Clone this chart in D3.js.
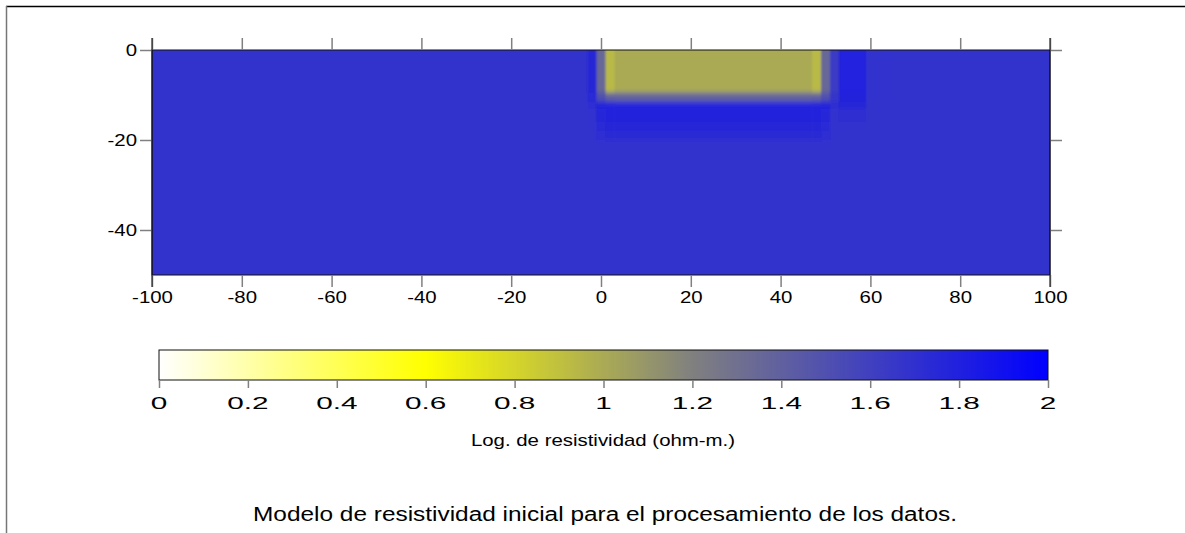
<!DOCTYPE html>
<html>
<head>
<meta charset="utf-8">
<script src="https://cdn.jsdelivr.net/npm/d3@7"></script>
<style>
  html, body { margin: 0; padding: 0; background: #fff; }
  svg { display: block; }
  text { font-family: "Liberation Sans", Arial, sans-serif; fill: #000; }
</style>
</head>
<body>
<svg id="chart" width="1185" height="533"></svg>
<script>
// Resistivity model: cell boundaries in distance (m) and depth (m)
const xEdges = [-100, -3, -1, 1, 3, 47, 49, 51, 53, 59, 65, 100];
const zEdges = [0, 9.5, 11.5, 13, 16, 18, 20, 22, 50];
// log10 resistivity per cell, one row per depth interval
const logRho = [
  [1.68, 1.75, 1.35, 0.93, 1.00, 0.93, 1.35, 1.64, 1.80, 1.70, 1.68],
  [1.68, 1.74, 1.50, 1.40, 1.38, 1.40, 1.50, 1.66, 1.78, 1.69, 1.68],
  [1.68, 1.72, 1.78, 1.80, 1.80, 1.80, 1.78, 1.72, 1.75, 1.68, 1.68],
  [1.68, 1.70, 1.76, 1.78, 1.78, 1.78, 1.76, 1.70, 1.71, 1.68, 1.68],
  [1.68, 1.69, 1.74, 1.75, 1.75, 1.75, 1.74, 1.69, 1.69, 1.68, 1.68],
  [1.68, 1.69, 1.72, 1.73, 1.73, 1.73, 1.72, 1.69, 1.68, 1.68, 1.68],
  [1.68, 1.68, 1.70, 1.70, 1.70, 1.70, 1.70, 1.68, 1.68, 1.68, 1.68],
  [1.68, 1.68, 1.68, 1.68, 1.68, 1.68, 1.68, 1.68, 1.68, 1.68, 1.68]
];
const xTicks = [-100, -80, -60, -40, -20, 0, 20, 40, 60, 80, 100];
const yTicks = [0, -20, -40];
const cbTicks = [0, 0.2, 0.4, 0.6, 0.8, 1, 1.2, 1.4, 1.6, 1.8, 2];
const cbStops = [0, 0.6, 1.2, 2];
const cbColors = ["#ffffff", "#ffff00", "#808080", "#0000ff"];
const cbTitle = "Log. de resistividad (ohm-m.)";
const caption = "Modelo de resistividad inicial para el procesamiento de los datos.";

const svg = d3.select("#chart");
const color = d3.scaleLinear().domain(cbStops).range(cbColors).clamp(true);

// widen a text element horizontally around its anchor
function widen(sel, k) {
  sel.each(function () {
    const w = this.getComputedTextLength();
    d3.select(this).attr("textLength", w * k).attr("lengthAdjust", "spacingAndGlyphs");
  });
}

// page frame
svg.append("line").attr("x1", 6).attr("x2", 1185).attr("y1", 6.5).attr("y2", 6.5)
  .attr("stroke", "#000").attr("stroke-width", 1.5);
svg.append("line").attr("x1", 6.5).attr("x2", 6.5).attr("y1", 6).attr("y2", 533)
  .attr("stroke", "#777").attr("stroke-width", 1.5);

// plot scales
const L = 152, R = 1050, T = 50, B = 275;
const x = d3.scaleLinear().domain([-100, 100]).range([L, R]);
const y = d3.scaleLinear().domain([0, -50]).range([T, B]);

const defs = svg.append("defs");
defs.append("clipPath").attr("id", "plotClip")
  .append("rect").attr("x", L).attr("y", T).attr("width", R - L).attr("height", B - T);
const pad = 12;
const blur = defs.append("filter").attr("id", "soft")
  .attr("filterUnits", "userSpaceOnUse")
  .attr("x", L - pad).attr("y", T - pad)
  .attr("width", R - L + 2 * pad).attr("height", B - T + 2 * pad);
blur.append("feGaussianBlur").attr("stdDeviation", "1.2 2.6");

// model cells; outer cells run past the frame so the smoothing has no soft rim
const nR = logRho.length, nC = xEdges.length - 1;
const cells = [];
logRho.forEach((row, i) => row.forEach((v, j) => cells.push({
  x0: xEdges[j], x1: xEdges[j + 1], z0: zEdges[i], z1: zEdges[i + 1], v, i, j
})));
svg.append("g").attr("clip-path", "url(#plotClip)")
  .append("g").attr("filter", "url(#soft)")
  .selectAll("rect").data(cells).join("rect")
  .attr("x", d => x(d.x0) - (d.j === 0 ? pad : 0))
  .attr("y", d => y(-d.z0) - (d.i === 0 ? pad : 0))
  .attr("width", d => x(d.x1) - x(d.x0) + 0.5 + (d.j === 0 || d.j === nC - 1 ? pad : 0))
  .attr("height", d => y(-d.z1) - y(-d.z0) + 0.5 + (d.i === 0 || d.i === nR - 1 ? pad : 0))
  .attr("fill", d => color(d.v));

// plot border
svg.append("rect").attr("x", L).attr("y", T).attr("width", R - L).attr("height", B - T)
  .attr("fill", "none").attr("stroke", "#111").attr("stroke-width", 1);

// axes: ticks outward on all four sides
function styleAxis(g) {
  g.select(".domain").remove();
  g.selectAll(".tick line").attr("stroke", "#808080").attr("stroke-width", 1.5);
  g.selectAll(".tick text").style("font-size", "17px")
    .style("font-family", "'Liberation Sans', Arial, sans-serif");
}
const fmt = d => String(d);
const gx = svg.append("g").attr("transform", `translate(0,${B})`)
  .call(d3.axisBottom(x).tickValues(xTicks).tickSize(12).tickPadding(4).tickFormat(fmt))
  .call(styleAxis);
widen(gx.selectAll(".tick text"), 1.2);
svg.append("g").attr("transform", `translate(0,${T})`)
  .call(d3.axisTop(x).tickValues(xTicks).tickSize(12).tickFormat(""))
  .call(styleAxis);
const gy = svg.append("g").attr("transform", `translate(${L},0)`)
  .call(d3.axisLeft(y).tickValues(yTicks).tickSize(12).tickPadding(3).tickFormat(fmt))
  .call(styleAxis);
widen(gy.selectAll(".tick text"), 1.2);
svg.append("g").attr("transform", `translate(${R},0)`)
  .call(d3.axisRight(y).tickValues(yTicks).tickSize(12).tickFormat(""))
  .call(styleAxis);
// side lines extending past the frame by the tick length
[L, R].forEach(px => svg.append("line").attr("x1", px).attr("x2", px)
  .attr("y1", T - 12).attr("y2", B + 12).attr("stroke", "#111").attr("stroke-width", 1));

// colour bar
const cbL = 159, cbR = 1048, cbT = 350, cbB = 380;
const cx = d3.scaleLinear().domain([0, 2]).range([cbL, cbR]);
const grad = defs.append("linearGradient").attr("id", "cbGrad")
  .attr("x1", cbL).attr("x2", cbR).attr("y1", 0).attr("y2", 0)
  .attr("gradientUnits", "userSpaceOnUse");
d3.range(0, 2.0001, 0.05).forEach(v => grad.append("stop")
  .attr("offset", (cx(v) - cbL) / (cbR - cbL)).attr("stop-color", color(v)));
svg.append("rect").attr("x", cbL).attr("y", cbT).attr("width", cbR - cbL).attr("height", cbB - cbT)
  .attr("fill", "url(#cbGrad)").attr("stroke", "#111").attr("stroke-width", 1);
const cbAxis = svg.append("g").attr("transform", `translate(0,${cbB})`)
  .call(d3.axisBottom(cx).tickValues(cbTicks).tickSize(8).tickFormat(""));
cbAxis.select(".domain").remove();
cbAxis.selectAll(".tick line").attr("stroke", "#808080").attr("stroke-width", 1.5);
svg.append("g").selectAll("text").data(cbTicks).join("text")
  .attr("transform", d => `translate(${cx(d)},409) scale(1.75,1)`)
  .attr("text-anchor", "middle")
  .style("font-size", "17px")
  .text(d => String(d));

const t1 = svg.append("text").attr("x", 603).attr("y", 446).attr("text-anchor", "middle")
  .style("font-size", "17px").text(cbTitle);
widen(t1, 1.2);
const t2 = svg.append("text").attr("x", 605).attr("y", 521).attr("text-anchor", "middle")
  .style("font-size", "20px").text(caption);
widen(t2, 1.22);
</script>
</body>
</html>
